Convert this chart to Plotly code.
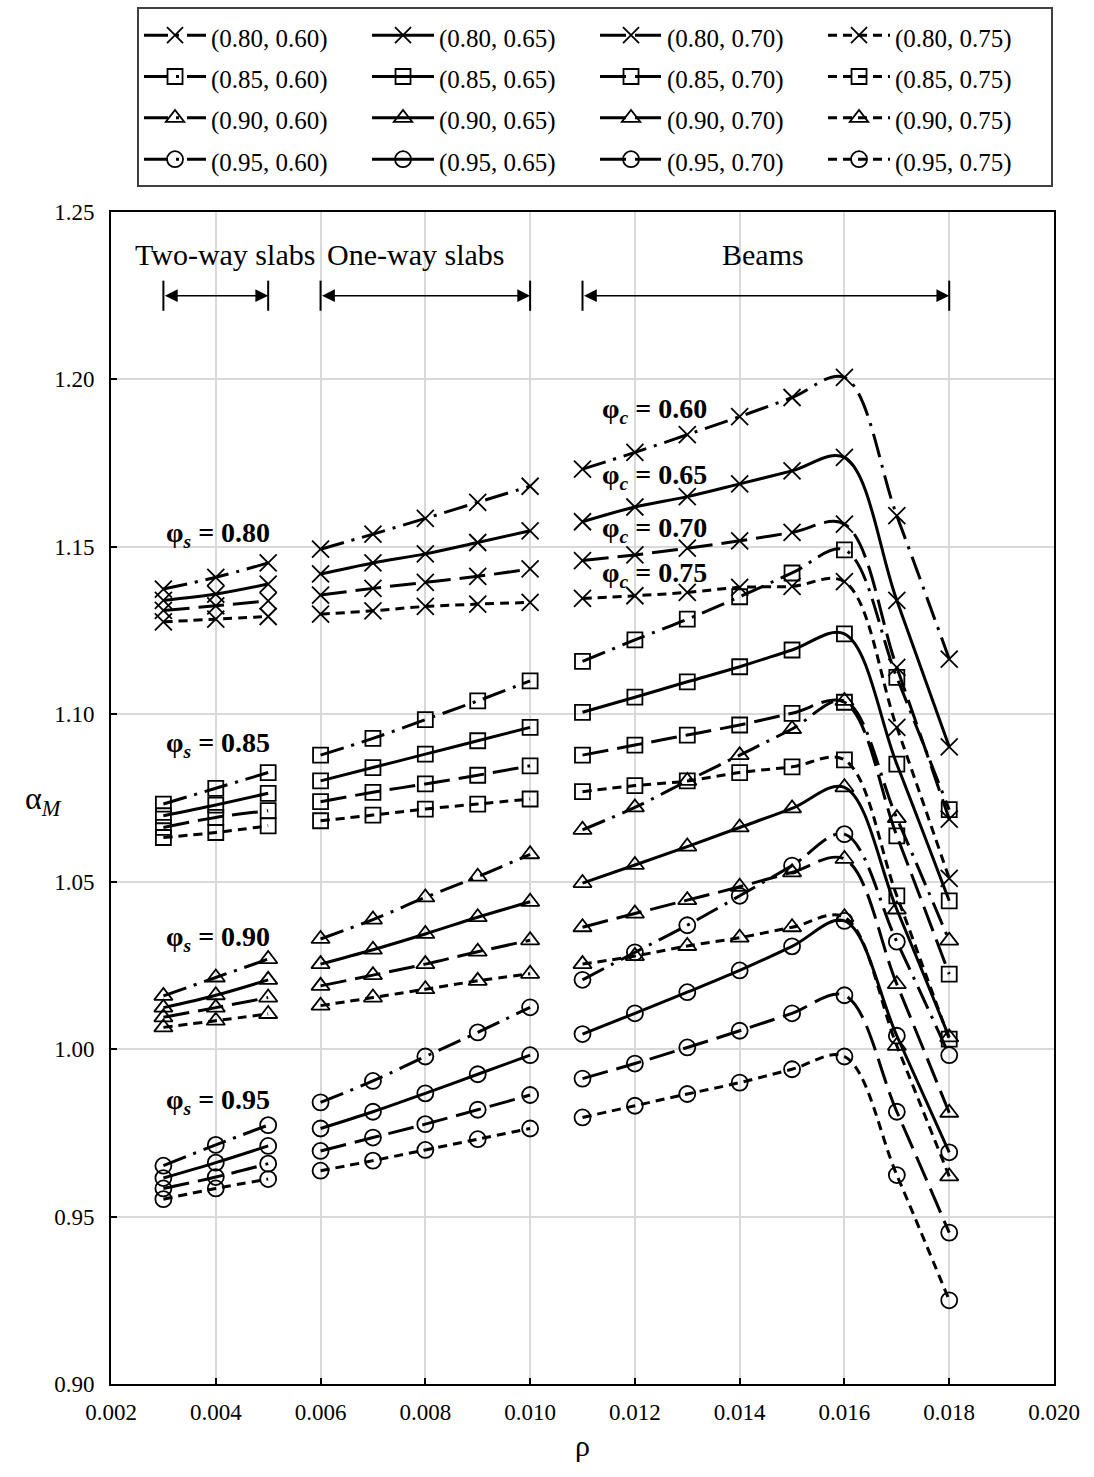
import plotly.graph_objects as go

# ---------------- data ----------------
rho_two_way = [0.003, 0.004, 0.005]
rho_one_way = [0.006, 0.007, 0.008, 0.009, 0.010]
rho_beams = [0.011, 0.012, 0.013, 0.014, 0.015, 0.016, 0.017, 0.018]

phi_s_values = ["0.80", "0.85", "0.90", "0.95"]
phi_c_values = ["0.60", "0.65", "0.70", "0.75"]

# alpha_M values: 3 two-way slab points, 5 one-way slab points, 8 beam points
alpha_080_060 = [1.1374, 1.1409, 1.1452, 1.1493, 1.1538, 1.1585, 1.1633, 1.1681,
                 1.1732, 1.1782, 1.1835, 1.1889, 1.1946, 1.2006, 1.1593, 1.1165]
alpha_080_065 = [1.1340, 1.1359, 1.1389, 1.1419, 1.1452, 1.1479, 1.1513, 1.1548,
                 1.1575, 1.1619, 1.1650, 1.1688, 1.1727, 1.1767, 1.1340, 1.0903]
alpha_080_070 = [1.1310, 1.1324, 1.1339, 1.1356, 1.1376, 1.1394, 1.1412, 1.1434,
                 1.1459, 1.1476, 1.1496, 1.1518, 1.1543, 1.1568, 1.1140, 1.0687]
alpha_080_075 = [1.1276, 1.1284, 1.1292, 1.1299, 1.1309, 1.1322, 1.1329, 1.1334,
                 1.1346, 1.1354, 1.1364, 1.1379, 1.1382, 1.1396, 1.0961, 1.0510]

alpha_085_060 = [1.0732, 1.0779, 1.0826, 1.0878, 1.0928, 1.0984, 1.1040, 1.1100,
                 1.1158, 1.1222, 1.1284, 1.1351, 1.1422, 1.1491, 1.1110, 1.0715]
alpha_085_065 = [1.0697, 1.0729, 1.0764, 1.0801, 1.0841, 1.0881, 1.0921, 1.0961,
                 1.1006, 1.1051, 1.1097, 1.1142, 1.1192, 1.1240, 1.0851, 1.0443]
alpha_085_070 = [1.0662, 1.0692, 1.0712, 1.0739, 1.0767, 1.0792, 1.0818, 1.0846,
                 1.0878, 1.0908, 1.0938, 1.0968, 1.1003, 1.1036, 1.0637, 1.0224]
alpha_085_075 = [1.0632, 1.0647, 1.0667, 1.0682, 1.0699, 1.0717, 1.0732, 1.0747,
                 1.0769, 1.0787, 1.0801, 1.0826, 1.0843, 1.0864, 1.0458, 1.0030]

alpha_090_060 = [1.0159, 1.0214, 1.0269, 1.0329, 1.0387, 1.0453, 1.0515, 1.0582,
                 1.0655, 1.0722, 1.0801, 1.0878, 1.0956, 1.1040, 1.0690, 1.0324]
alpha_090_065 = [1.0124, 1.0161, 1.0207, 1.0254, 1.0297, 1.0344, 1.0394, 1.0440,
                 1.0496, 1.0550, 1.0605, 1.0662, 1.0719, 1.0782, 1.0417, 1.0035]
alpha_090_070 = [1.0095, 1.0124, 1.0154, 1.0189, 1.0221, 1.0254, 1.0291, 1.0325,
                 1.0364, 1.0405, 1.0445, 1.0485, 1.0528, 1.0568, 1.0194, 0.9810]
alpha_090_075 = [1.0065, 1.0085, 1.0105, 1.0130, 1.0154, 1.0179, 1.0204, 1.0225,
                 1.0254, 1.0278, 1.0308, 1.0333, 1.0364, 1.0394, 1.0010, 0.9620]

alpha_095_060 = [0.9652, 0.9714, 0.9773, 0.9841, 0.9905, 0.9978, 1.0050, 1.0125,
                 1.0207, 1.0289, 1.0370, 1.0458, 1.0548, 1.0642, 1.0321, 0.9982]
alpha_095_065 = [0.9615, 0.9661, 0.9711, 0.9763, 0.9813, 0.9868, 0.9925, 0.9982,
                 1.0045, 1.0107, 1.0170, 1.0235, 1.0307, 1.0383, 1.0040, 0.9692]
alpha_095_070 = [0.9584, 0.9618, 0.9658, 0.9696, 0.9736, 0.9776, 0.9819, 0.9863,
                 0.9912, 0.9957, 1.0005, 1.0055, 1.0107, 1.0161, 0.9813, 0.9452]
alpha_095_075 = [0.9552, 0.9584, 0.9612, 0.9637, 0.9667, 0.9699, 0.9731, 0.9763,
                 0.9796, 0.9831, 0.9866, 0.9900, 0.9940, 0.9978, 0.9624, 0.9250]

series = {
    ("0.80", "0.60"): alpha_080_060, ("0.80", "0.65"): alpha_080_065,
    ("0.80", "0.70"): alpha_080_070, ("0.80", "0.75"): alpha_080_075,
    ("0.85", "0.60"): alpha_085_060, ("0.85", "0.65"): alpha_085_065,
    ("0.85", "0.70"): alpha_085_070, ("0.85", "0.75"): alpha_085_075,
    ("0.90", "0.60"): alpha_090_060, ("0.90", "0.65"): alpha_090_065,
    ("0.90", "0.70"): alpha_090_070, ("0.90", "0.75"): alpha_090_075,
    ("0.95", "0.60"): alpha_095_060, ("0.95", "0.65"): alpha_095_065,
    ("0.95", "0.70"): alpha_095_070, ("0.95", "0.75"): alpha_095_075,
}

# ---------------- styles ----------------
FONT = "Times New Roman, Liberation Serif, serif"
symbols = {"0.80": "x-thin-open", "0.85": "square-open",
           "0.90": "triangle-up-open", "0.95": "circle-open"}
sizes = {"0.80": 17, "0.85": 15, "0.90": 16, "0.95": 16}
dashes = {"0.60": "24px,8px,3px,8px", "0.65": "solid",
          "0.70": "26px,9px", "0.75": "9px,6px"}

n2, n1 = len(rho_two_way), len(rho_one_way)
x_all = rho_two_way + [None] + rho_one_way + [None] + rho_beams

fig = go.Figure()
for ps in phi_s_values:
    for pc in phi_c_values:
        v = series[(ps, pc)]
        y_all = v[:n2] + [None] + v[n2:n2 + n1] + [None] + v[n2 + n1:]
        fig.add_trace(go.Scatter(
            x=x_all, y=y_all, mode="lines+markers",
            name=f'<span style="font-size:25px">({ps}, {pc})</span>',
            connectgaps=False,
            line=dict(color="black", width=3, dash=dashes[pc],
                      shape="spline", smoothing=1),
            marker=dict(symbol=symbols[ps], size=sizes[ps], color="black",
                        line=dict(color="black", width=1.8)),
        ))

# ---------------- annotations ----------------
ann = []
region_labels = ["Two-way slabs", "One-way slabs", "Beams"]
regions = [rho_two_way, rho_one_way, rho_beams]
label_x = [0.00418, 0.00782, 0.01444]
y_label, y_arrow, y_bar0, y_bar1 = 1.2372, 1.2250, 1.2205, 1.2295
shapes = []
for lab, reg, lx in zip(region_labels, regions, label_x):
    ann.append(dict(x=lx, y=y_label, xref="x", yref="y", text=lab,
                    showarrow=False, font=dict(family=FONT, size=30, color="black")))
    ann.append(dict(x=reg[-1], y=y_arrow, ax=reg[0], ay=y_arrow, xref="x", yref="y",
                    axref="x", ayref="y", text="", showarrow=True, arrowhead=2,
                    arrowside="end+start", arrowsize=1.6, arrowwidth=1.6,
                    arrowcolor="black", standoff=0, startstandoff=0))
    for xb in (reg[0], reg[-1]):
        shapes.append(dict(type="line", xref="x", yref="y", x0=xb, x1=xb,
                           y0=y_bar0, y1=y_bar1, line=dict(color="black", width=2)))

phis_y = [1.1536, 1.0909, 1.0330, 0.9843]
for ps, yy in zip(phi_s_values, phis_y):
    ann.append(dict(x=0.00404, y=yy, xref="x", yref="y",
                    text=f"<b>φ<sub><i>s</i></sub> = {ps}</b>", showarrow=False,
                    font=dict(family=FONT, size=28, color="black")))

phic_y = [1.1906, 1.1709, 1.1551, 1.1416]
for pc, yy in zip(phi_c_values, phic_y):
    ann.append(dict(x=0.01238, y=yy, xref="x", yref="y",
                    text=f"<b>φ<sub><i>c</i></sub> = {pc}</b>", showarrow=False,
                    font=dict(family=FONT, size=28, color="black")))

ann.append(dict(x=-0.093, y=0.498, xref="paper", yref="paper",
                text="α<sub><i>M</i></sub>", showarrow=False,
                font=dict(family=FONT, size=32, color="black")))
ann.append(dict(x=0.5, y=-0.068, xref="paper", yref="paper", text="ρ",
                showarrow=False, font=dict(family=FONT, size=30, color="black")))

fig.update_layout(
    width=1094, height=1477,
    margin=dict(l=111, r=40, t=212, b=93, autoexpand=False),
    paper_bgcolor="white", plot_bgcolor="white",
    font=dict(family=FONT, size=23, color="black"),
    showlegend=True,
    legend=dict(orientation="h", x=0.0276, y=1.1745, xanchor="left", yanchor="top",
                xref="paper", yref="paper",
                bordercolor="#404040", borderwidth=2, bgcolor="white",
                font=dict(family=FONT, size=29.5, color="black"),
                itemwidth=62, entrywidth=151, entrywidthmode="pixels",
                traceorder="normal"),
    annotations=ann, shapes=shapes,
    xaxis=dict(range=[0.002, 0.020], dtick=0.002, tick0=0.002, tickformat=".3f",
               showgrid=True, gridcolor="#d9d9d9", gridwidth=2,
               showline=True, linecolor="black", linewidth=2, mirror=True,
               ticks="inside", ticklen=6, tickwidth=2, tickcolor="black",
               zeroline=False, ticklabelstandoff=6,
               tickfont=dict(family=FONT, size=23, color="black")),
    yaxis=dict(range=[0.90, 1.25], dtick=0.05, tick0=0.90, tickformat=".2f",
               showgrid=True, gridcolor="#d9d9d9", gridwidth=2,
               showline=True, linecolor="black", linewidth=2, mirror=True,
               ticks="inside", ticklen=6, tickwidth=2, tickcolor="black",
               zeroline=False, ticklabelstandoff=10,
               tickfont=dict(family=FONT, size=23, color="black")),
)

fig.write_html("out.html")
